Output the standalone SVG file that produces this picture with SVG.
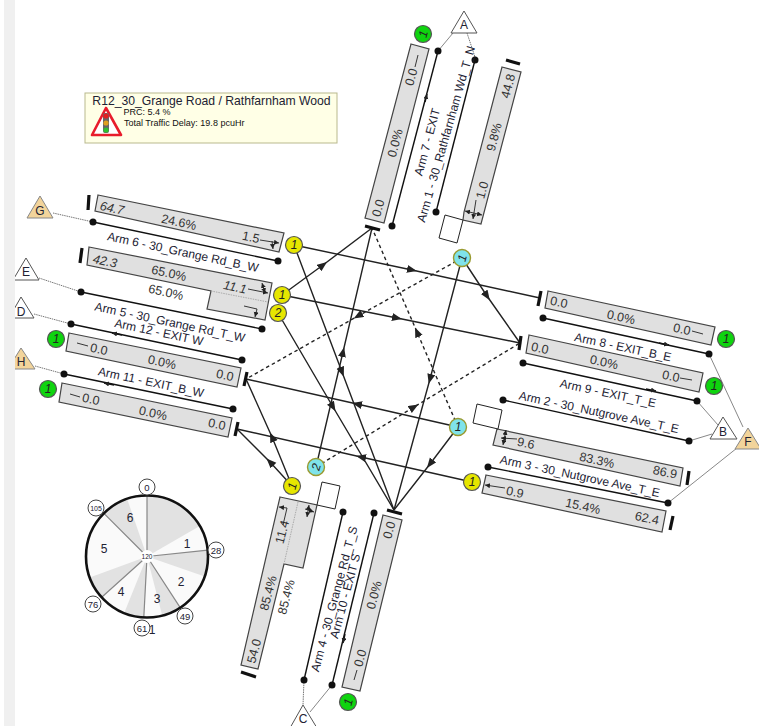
<svg xmlns="http://www.w3.org/2000/svg" width="759" height="726" viewBox="0 0 759 726">
<style>
text{font-family:"Liberation Sans",Arial,sans-serif;fill:#223;text-anchor:middle}
.n{font-size:12px}.v{font-size:12.500px;fill:#333}.i{font-style:italic}
.b{fill:#e0e0e0;stroke:#444;stroke-width:1.200}
.w{fill:#fff;stroke:#222;stroke-width:1}
.l{fill:none;stroke:#111;stroke-width:1.400}
.t{stroke:#111;stroke-width:3.200;fill:none}
.d{fill:#111}
.g{fill:none;stroke:#777;stroke-width:1;stroke-dasharray:1.500 .8}
.gs{fill:none;stroke:#888;stroke-width:1}
.c{fill:none;stroke:#222;stroke-width:1.400;marker-mid:url(#h)}
.x{stroke-dasharray:3.500 3}
.a{fill:none;stroke:#222;stroke-width:.9}
.e{marker-end:url(#s)}
.s{marker-start:url(#s)}
.sg{stroke:#555;stroke-width:1.200}
.y{fill:#e6e600}.q{fill:#7fe3ea;stroke:#9a9a30;stroke-width:1.400}.k{fill:#0fd40f}
.sl{font-size:12px;font-style:italic;fill:#222}
.tan{fill:#f2d49b;stroke:#888;stroke-width:1}
.wt{fill:#fff;stroke:#555;stroke-width:1}
.gr{fill:#e2e2e2}.wh{fill:#fafafa}
.dv{stroke:#888;stroke-width:1.200}
.tk{fill:#fff;stroke:#444;stroke-width:1}
</style>
<defs>
<marker id="h" markerUnits="userSpaceOnUse" markerWidth="12" markerHeight="10" refX="5" refY="4" orient="auto"><path d="M0 0L10 4L0 8Z" fill="#222"/></marker>
<marker id="s" markerUnits="userSpaceOnUse" markerWidth="7" markerHeight="7" refX="5" refY="2.500" orient="auto-start-reverse"><path d="M0 0L5 2.500L0 5Z" fill="#222"/></marker>
</defs>
<rect width="759" height="726" fill="#fff"/>
<g id="connectors">
<path class="c" d="M294 245L412 270L540 298"/>
<path class="c" d="M294 245L342 372L394 510"/>
<path class="c" d="M282 295L323 265L372 228"/>
<path class="c" d="M282 295L397 318L520 343"/>
<path class="c" d="M278 313L333 407L394 510"/>
<path class="c" d="M462 258L487 296L520 343"/>
<path class="c" d="M462 258L430 379L394 510"/>
<path class="c x" d="M462 258L358 316L246 379"/>
<path class="c x" d="M458 427L417 332L372 228"/>
<path class="c" d="M458 427L357 404L246 379"/>
<path class="c" d="M458 427L430 464L394 510"/>
<path class="c" d="M316 467L343 352L372 228"/>
<path class="c x" d="M316 467L414 407L520 343"/>
<path class="c" d="M292 486L272 437L246 379"/>
<path class="c" d="M292 486L270 462L237 429"/>
<path class="c" d="M472 482L361 457L237 429"/>
<path class="g" d="M53 213L93 222M39 278L81 292M34 314L71 324M35 366L64 374M467 33L476 60M304 680L303 705"/>
<path class="gs" d="M453 33L438 51M709 354L743 427M697 401L718 425M689 441L712 434M668 503L737 448M332 685L310 712"/>
</g>
<g id="arm6">
<path class="t" d="M89 195L88 210"/>
<polygon class="b" points="98,195 284,233 279,252 95,211"/>
<path class="l" d="M93 222L278 261"/><circle class="d" cx="93" cy="222" r="3.500"/><circle class="d" cx="278" cy="261" r="3.500"/>
<text class="v i" transform="translate(112 208) rotate(12)" dy=".35em">64.7</text>
<text class="v" transform="translate(179 222) rotate(12)" dy=".35em">24.6%</text>
<text class="v" transform="translate(251 237) rotate(12)" dy=".35em">1.5</text>
<path class="a e" d="M260 240L279 243"/><path class="a e" d="M272 241L273 249"/>
<text class="n" transform="translate(183 252) rotate(12)" dy=".35em">Arm 6 - 30_Grange Rd_B_W</text>
</g>
<g id="arm5">
<path class="t" d="M82 248L80 263"/>
<polygon class="b" points="89,247 272,283 265,320 207,309 211,291 87,265"/>
<path d="M211 291L268 302" stroke="#aaa" stroke-width="1" stroke-dasharray="1.500 1" fill="none"/>
<path class="l" d="M81 292L262 329"/><circle class="d" cx="81" cy="292" r="3.500"/><circle class="d" cx="262" cy="329" r="3.500"/>
<text class="v i" transform="translate(105 261) rotate(12)" dy=".35em">42.3</text>
<text class="v" transform="translate(169 273) rotate(12)" dy=".35em">65.0%</text>
<text class="v i" transform="translate(235 287) rotate(12)" dy=".35em">11.1</text>
<text class="v" transform="translate(166 292) rotate(12)" dy=".35em">65.0%</text>
<path class="a e" d="M248 289L268 293"/><path class="a e s" d="M262 283L265 293"/>
<path class="a e" d="M244 306L257 309L255 317"/>
<text class="n" transform="translate(170 322) rotate(12)" dy=".35em">Arm 5 - 30_Grange Rd_T_W</text>
</g>
<g id="arm12">
<path class="t" d="M247 372L244 386"/>
<polygon class="b" points="69,333 241,368 237,387 66,351"/>
<path class="l" d="M71 324L242 360"/><circle class="d" cx="71" cy="324" r="3.500"/><circle class="d" cx="242" cy="360" r="3.500"/>
<path class="l e" d="M122 335L112 333"/>
<path class="a" d="M77 343L88 346"/>
<text class="v" transform="translate(99 349) rotate(12)" dy=".35em">0.0</text>
<text class="v" transform="translate(162 362) rotate(12)" dy=".35em">0.0%</text>
<text class="v" transform="translate(225 375) rotate(12)" dy=".35em">0.0</text>
<text class="n" transform="translate(159 332) rotate(12)" dy=".35em">Arm 12 - EXIT W</text>
</g>
<g id="arm11">
<path class="t" d="M238 422L235 436"/>
<polygon class="b" points="62,383 232,418 228,437 59,402"/>
<path class="l" d="M64 374L233 409"/><circle class="d" cx="64" cy="374" r="3.500"/><circle class="d" cx="233" cy="409" r="3.500"/>
<path class="l e" d="M114 385L104 383"/>
<path class="a" d="M70 394L80 397"/>
<text class="v" transform="translate(91 399) rotate(12)" dy=".35em">0.0</text>
<text class="v" transform="translate(153 413) rotate(12)" dy=".35em">0.0%</text>
<text class="v" transform="translate(217 424) rotate(12)" dy=".35em">0.0</text>
<text class="n" transform="translate(151 382) rotate(12)" dy=".35em">Arm 11 - EXIT_B_W</text>
</g>
<g id="arm7">
<path class="t" d="M365 226L380 230"/>
<polygon class="b" points="411,44 429,49 384,223 365,218"/>
<path class="l" d="M438 51L392 226"/><circle class="d" cx="438" cy="51" r="3.500"/><circle class="d" cx="392" cy="226" r="3.500"/>
<path class="l e" d="M425 102L427 94"/>
<path class="a" d="M418 55L415 67"/>
<text class="v" transform="translate(411 77) rotate(-75)" dy=".35em">0.0</text>
<text class="v" transform="translate(395 143) rotate(-75)" dy=".35em">0.0%</text>
<text class="v" transform="translate(378 208) rotate(-75)" dy=".35em">0.0</text>
<text class="n" transform="translate(427 142) rotate(-75)" dy=".35em">Arm 7 - EXIT</text>
</g>
<g id="arm1">
<path class="t" d="M506 60L520 64"/>
<polygon class="b" points="502,67 521,72 481,224 463,220 464,212"/>
<polygon class="w" points="445,215 463,220 457,243 439,238"/>
<path class="l" d="M475 60L436 212"/><circle class="d" cx="475" cy="60" r="3.500"/><circle class="d" cx="436" cy="212" r="3.500"/>
<text class="v" transform="translate(508 86) rotate(-75)" dy=".35em">44.8</text>
<text class="v" transform="translate(494 137) rotate(-75)" dy=".35em">9.8%</text>
<text class="v" transform="translate(482 190) rotate(-75)" dy=".35em">1.0</text>
<path class="a e" d="M476 200L473 219"/><path class="a e s" d="M465 211L482 215"/>
<text class="n" transform="translate(446 134) rotate(-74)" dy=".35em">Arm 1 - 30_Rathfarnham Wd_T_N</text>
</g>
<g id="arm8">
<path class="t" d="M541 291L538 306"/>
<polygon class="b" points="548,291 715,327 711,345 545,308"/>
<path class="l" d="M543 318L709 354"/><circle class="d" cx="543" cy="318" r="3.500"/><circle class="d" cx="709" cy="354" r="3.500"/>
<path class="l e" d="M659 343L669 345"/>
<path class="a" d="M692 331L703 334"/>
<text class="v" transform="translate(559 302) rotate(12)" dy=".35em">0.0</text>
<text class="v" transform="translate(621 317) rotate(12)" dy=".35em">0.0%</text>
<text class="v" transform="translate(682 329) rotate(12)" dy=".35em">0.0</text>
<text class="n" transform="translate(623 347) rotate(12)" dy=".35em">Arm 8 - EXIT_B_E</text>
</g>
<g id="arm9">
<path class="t" d="M521 336L519 350"/>
<polygon class="b" points="529,335 703,373 699,392 526,353"/>
<path class="l" d="M523 363L697 401"/><circle class="d" cx="523" cy="363" r="3.500"/><circle class="d" cx="697" cy="401" r="3.500"/>
<path class="l e" d="M646 389L656 391"/>
<path class="a" d="M680 378L692 380"/>
<text class="v" transform="translate(540 348) rotate(12)" dy=".35em">0.0</text>
<text class="v" transform="translate(604 362) rotate(12)" dy=".35em">0.0%</text>
<text class="v" transform="translate(671 376) rotate(12)" dy=".35em">0.0</text>
<text class="n" transform="translate(608 393) rotate(12)" dy=".35em">Arm 9 - EXIT_T_E</text>
</g>
<g id="arm2">
<path class="t" d="M689 471L687 485"/>
<polygon class="b" points="497,429 683,468 680,486 493,445"/>
<polygon class="w" points="477,404 502,410 498,429 473,423"/>
<path class="l" d="M503 400L689 441"/><circle class="d" cx="503" cy="400" r="3.500"/><circle class="d" cx="689" cy="441" r="3.500"/>
<text class="v" transform="translate(526 443) rotate(12)" dy=".35em">9.6</text>
<text class="v" transform="translate(597 460) rotate(12)" dy=".35em">83.3%</text>
<text class="v" transform="translate(665 472) rotate(12)" dy=".35em">86.9</text>
<path class="a e" d="M517 439L501 438"/><path class="a e s" d="M506 430L503 445"/>
<text class="n" transform="translate(599 412) rotate(12)" dy=".35em">Arm 2 - 30_Nutgrove Ave_T_E</text>
</g>
<g id="arm3">
<path class="t" d="M673 516L670 530"/>
<polygon class="b" points="486,475 666,511 662,532 482,493"/>
<path class="l" d="M488 467L668 503"/><circle class="d" cx="488" cy="467" r="3.500"/><circle class="d" cx="668" cy="503" r="3.500"/>
<text class="v" transform="translate(515 492) rotate(12)" dy=".35em">0.9</text>
<text class="v" transform="translate(583 506) rotate(12)" dy=".35em">15.4%</text>
<text class="v" transform="translate(647 518) rotate(12)" dy=".35em">62.4</text>
<path class="a e" d="M505 488L485 485"/>
<text class="n" transform="translate(580 476) rotate(12)" dy=".35em">Arm 3 - 30_Nutgrove Ave_T_E</text>
</g>
<g id="arm4">
<path class="t" d="M241 672L256 677"/>
<polygon class="b" points="280,497 317,505 303,568 284,564 258,669 241,665"/>
<path d="M298 502L284 564" stroke="#aaa" stroke-width="1" stroke-dasharray="1.500 1" fill="none"/>
<polygon class="w" points="322,482 340,486 335,509 317,505"/>
<path class="l" d="M343 512L304 680"/><circle class="d" cx="343" cy="512" r="3.500"/><circle class="d" cx="304" cy="680" r="3.500"/>
<text class="v" transform="translate(254 651) rotate(-75)" dy=".35em">54.0</text>
<text class="v" transform="translate(268 593) rotate(-75)" dy=".35em">85.4%</text>
<text class="v" transform="translate(282 532) rotate(-75)" dy=".35em">11.4</text>
<text class="v" transform="translate(286 597) rotate(-75)" dy=".35em">85.4%</text>
<path class="a e" d="M283 525L287 508L279 507"/>
<path class="a e" d="M305 509L314 512"/><path class="a e s" d="M309 505L307 517"/>
<text class="n" transform="translate(334 599) rotate(-75)" dy=".35em">Arm 4 - 30_Grange Rd_T_S</text>
</g>
<g id="arm10">
<path class="t" d="M387 510L402 514"/>
<polygon class="b" points="383,515 402,520 360,691 342,687"/>
<path class="l" d="M374 513L332 685"/><circle class="d" cx="374" cy="513" r="3.500"/><circle class="d" cx="332" cy="685" r="3.500"/>
<path class="l e" d="M345 634L343 643"/>
<path class="a" d="M354 680L357 670"/>
<text class="v" transform="translate(389 530) rotate(-75)" dy=".35em">0.0</text>
<text class="v" transform="translate(374 595) rotate(-75)" dy=".35em">0.0%</text>
<text class="v" transform="translate(360 658) rotate(-75)" dy=".35em">0.0</text>
<text class="n" transform="translate(345 596) rotate(-75)" dy=".35em">Arm 10 - EXIT S</text>
</g>
<g id="zone-A"><polygon class="wt" points="464,11 451,33 477,33"/><text class="n" x="464" y="29">A</text></g>
<g id="zone-B"><polygon class="wt" points="723,417 710,439 737,439"/><text class="n" x="723" y="436">B</text></g>
<g id="zone-C"><polygon class="wt" points="303,705 290,728 317,728"/><text class="n" x="303" y="723">C</text></g>
<g id="zone-D"><polygon class="wt" points="21,297 9,318 34,318"/><text class="n" x="21" y="316">D</text></g>
<g id="zone-E"><polygon class="wt" points="26,258 13,280 39,280"/><text class="n" x="26" y="276">E</text></g>
<g id="zone-F"><polygon class="tan" points="748,428 735,449 761,449"/><text class="n" x="748" y="446">F</text></g>
<g id="zone-G"><polygon class="tan" points="40,196 27,218 53,218"/><text class="n" x="40" y="215">G</text></g>
<g id="zone-H"><polygon class="tan" points="21,348 8,369 35,369"/><text class="n" x="21" y="366">H</text></g>
<g id="sig-y1"><circle class="y sg" cx="294" cy="245" r="8.500"/><text class="sl" x="294" y="249">1</text></g>
<g id="sig-y2"><circle class="y sg" cx="282" cy="295" r="8.500"/><text class="sl" x="282" y="299">1</text></g>
<g id="sig-y3"><circle class="y sg" cx="278" cy="313" r="8.500"/><text class="sl" x="278" y="317">2</text></g>
<g id="sig-y4"><circle class="y sg" cx="292" cy="486" r="8.500"/><text class="sl" transform="translate(292 486) rotate(-75)" dy=".35em">1</text></g>
<g id="sig-y5"><circle class="y sg" cx="472" cy="482" r="8.500"/><text class="sl" x="472" y="486">1</text></g>
<g id="sig-c1"><circle class="q" cx="462" cy="258" r="8.500"/><text class="sl" transform="translate(462 258) rotate(-75)" dy=".35em">1</text></g>
<g id="sig-c2"><circle class="q" cx="458" cy="427" r="8.500"/><text class="sl" x="458" y="431">1</text></g>
<g id="sig-c3"><circle class="q" cx="316" cy="467" r="8.500"/><text class="sl" transform="translate(316 467) rotate(-75)" dy=".35em">2</text></g>
<g id="sig-g1"><circle class="k sg" cx="423" cy="34" r="8.500"/><text class="sl" transform="translate(423 34) rotate(-75)" dy=".35em">1</text></g>
<g id="sig-g2"><circle class="k sg" cx="56" cy="339" r="8.500"/><text class="sl" x="56" y="343">1</text></g>
<g id="sig-g3"><circle class="k sg" cx="48" cy="389" r="8.500"/><text class="sl" x="48" y="393">1</text></g>
<g id="sig-g4"><circle class="k sg" cx="726" cy="339" r="8.500"/><text class="sl" x="726" y="343">1</text></g>
<g id="sig-g5"><circle class="k sg" cx="714" cy="386" r="8.500"/><text class="sl" x="714" y="390">1</text></g>
<g id="sig-g6"><circle class="k sg" cx="348" cy="702" r="8.500"/><text class="sl" transform="translate(348 702) rotate(-75)" dy=".35em">1</text></g>
<g id="info">
<rect x="85" y="93" width="252" height="50" fill="#ffffe6" stroke="#b9b98e" stroke-width="1"/>
<text x="211.500" y="104.500" font-size="12.200">R12_30_Grange Road / Rathfarnham Wood</text>
<polygon points="106,108 92,135 121,135" fill="#fff" stroke="#e81c2c" stroke-width="2.600" stroke-linejoin="round"/>
<rect x="103" y="113" width="6" height="20" rx="2" fill="#666"/>
<circle cx="106" cy="116" r="2.600" fill="#e02020"/><circle cx="106" cy="123" r="2.600" fill="#e0a020"/><circle cx="106" cy="130" r="2.600" fill="#30c030"/>
<text x="123.500" y="115" font-size="9" style="text-anchor:start;fill:#111">PRC: 5.4 %</text>
<text x="124" y="126" font-size="9" style="text-anchor:start;fill:#111">Total Traffic Delay: 19.8 pcuHr</text>
</g>
<g id="stages">
<circle cx="147" cy="556.500" r="61" class="wh"/>
<path class="gr" d="M147 556.500L147 495.500A61 61 0 0 1 199.800 526Z"/>
<path class="gr" d="M147 556.500L207.700 550.100A61 61 0 0 1 204.700 576.400Z"/>
<path class="gr" d="M147 556.500L180.200 607.700A61 61 0 0 1 162.200 615.600Z"/>
<path class="gr" d="M147 556.500L143.800 617.400A61 61 0 0 1 124.200 613.100Z"/>
<path class="gr" d="M147 556.500L101.700 597.300A61 61 0 0 1 89.700 577.400Z"/>
<path class="gr" d="M147 556.500L103.900 513.400A61 61 0 0 1 127.100 498.800Z"/>
<path class="dv" d="M147 556.500V495.500M147 556.500L207.700 550.100M147 556.500L180.200 607.700M147 556.500L143.800 617.400M147 556.500L101.700 597.300M147 556.500L103.900 513.400"/>
<circle cx="147" cy="556.500" r="61" fill="none" stroke="#111" stroke-width="2.600"/>
<circle cx="147" cy="556.500" r="6.500" fill="#fff"/>
<text x="147" y="559" font-size="6.500">120</text>
<text x="187" y="548" font-size="12">1</text><text x="181" y="586" font-size="12">2</text><text x="157" y="603" font-size="12">3</text><text x="121" y="596" font-size="12">4</text><text x="104" y="553" font-size="12">5</text><text x="130" y="522" font-size="12">6</text>
<text x="152" y="634" font-size="12">1</text>
<circle class="tk" cx="147" cy="487" r="8"/><text x="147" y="490.500" font-size="9.500">0</text>
<circle class="tk" cx="216" cy="550" r="8"/><text x="216" y="553.500" font-size="9.500">28</text>
<circle class="tk" cx="185" cy="616" r="8"/><text x="185" y="619.500" font-size="9.500">49</text>
<circle class="tk" cx="142" cy="628" r="8"/><text x="142" y="631.500" font-size="9.500">61</text>
<circle class="tk" cx="93" cy="604" r="8"/><text x="93" y="607.500" font-size="9.500">76</text>
<circle class="tk" cx="96" cy="508" r="8"/><text x="96" y="510.500" font-size="7">105</text>
</g>
<rect x="0" y="0" width="4" height="726" fill="#fff"/>
<rect x="4" y="0" width="11" height="726" fill="#f0f0f0"/>
</svg>
